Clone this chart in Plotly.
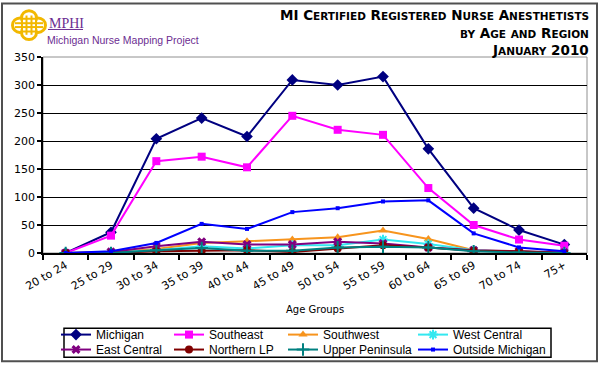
import plotly.graph_objects as go

age_groups = ["20 to 24", "25 to 29", "30 to 34", "35 to 39", "40 to 44", "45 to 49",
              "50 to 54", "55 to 59", "60 to 64", "65 to 69", "70 to 74", "75+"]

michigan = [0, 37, 204, 241, 208, 309, 300, 315, 186, 80, 41, 15]
southeast = [0, 31, 164, 172, 153, 245, 220, 211, 116, 50, 24, 13]
southwest = [0, 1, 7, 18, 21, 24, 28, 40, 25, 5, 3, 0]
west_central = [0, 1, 5, 12, 8, 14, 14, 24, 16, 5, 2, 1]
east_central = [0, 2, 12, 20, 15, 15, 20, 17, 10, 5, 3, 1]
northern_lp = [0, 0, 3, 4, 5, 2, 8, 14, 10, 4, 3, 0]
upper_peninsula = [0, 0, 5, 9, 4, 4, 10, 11, 10, 3, 1, 0]
outside_michigan = [0, 3, 18, 52, 43, 73, 80, 92, 94, 35, 10, 3]

W, H = 600, 376
L, R, T, B = 43, 13, 57, 116
PW, PH = W - L - R, H - T - B


def px(x):
    return (x - L) / PW


def py(y):
    return (H - B - y) / PH


series = [
    ("Michigan", michigan, "#000080", dict(symbol="diamond", size=9)),
    ("Southeast", southeast, "#FF00FF", dict(symbol="square", size=8)),
    ("Southwest", southwest, "#F7941D", dict(symbol="triangle-up", size=8)),
    ("West Central", west_central, "#33E8F0", dict(symbol="asterisk-open", size=8, line=dict(width=2, color="#33E8F0"))),
    ("East Central", east_central, "#800080", dict(symbol="x", size=8)),
    ("Northern LP", northern_lp, "#800000", dict(symbol="circle", size=8)),
    ("Upper Peninsula", upper_peninsula, "#008080", dict(symbol="cross-thin-open", size=9, line=dict(width=2, color="#008080"))),
    ("Outside Michigan", outside_michigan, "#0000FF", dict(symbol="square", size=4)),
]

# legend text left positions (px) and rows
col_text_x = [96, 209, 323, 453]
row_y = [344.5, 360]

fig = go.Figure()
legend_layouts = {}
for i, (name, vals, color, mk) in enumerate(series):
    lg = "legend" if i == 0 else f"legend{i+1}"
    mk = dict(mk)
    mk.setdefault("color", color)
    fig.add_trace(go.Scatter(
        x=age_groups, y=vals, name=name, mode="lines+markers",
        line=dict(color=color, width=2), marker=mk, legend=lg,
    ))
    col = i % 4
    row = i // 4
    legend_layouts[lg] = dict(
        x=px(col_text_x[col] - 40), xanchor="left",
        y=py(row_y[row]), yanchor="middle",
        bgcolor="rgba(0,0,0,0)", borderwidth=0,
        font=dict(family="Liberation Sans, Arial, sans-serif", size=12, color="black"),
        orientation="v",
    )

shapes = []
# outer frame
shapes.append(dict(type="rect", xref="paper", yref="paper",
                   x0=px(2), x1=px(597), y0=py(1.5), y1=py(372),
                   line=dict(color="#505050", width=2), fillcolor="rgba(0,0,0,0)", layer="above"))
# plot area gray border (top/right)
shapes.append(dict(type="rect", xref="paper", yref="paper", x0=0, x1=1, y0=0, y1=1,
                   line=dict(color="#909090", width=1), layer="below"))
# legend box
shapes.append(dict(type="rect", xref="paper", yref="paper",
                   x0=px(64), x1=px(551), y0=py(338), y1=py(368),
                   line=dict(color="black", width=1.5)))
# logo: quatrefoil knot
for cx, cy in [(20, 24), (38, 24), (29, 16.5), (29, 31.5)]:
    r = 7.5
    shapes.append(dict(type="circle", xref="paper", yref="paper",
                       x0=px(cx - r), x1=px(cx + r), y0=py(cy - r), y1=py(cy + r),
                       line=dict(color="#F2B800", width=3), fillcolor="white"))
shapes.append(dict(type="rect", xref="paper", yref="paper",
                   x0=px(22), x1=px(36), y0=py(17.5), y1=py(30.5),
                   line=dict(color="#F2B800", width=2), fillcolor="white"))
for v in [26.5, 31.5]:
    shapes.append(dict(type="line", xref="paper", yref="paper",
                       x0=px(v), x1=px(v), y0=py(14), y1=py(34),
                       line=dict(color="#F2B800", width=2)))
for hz in [22, 26]:
    shapes.append(dict(type="line", xref="paper", yref="paper",
                       x0=px(15), x1=px(43), y0=py(hz), y1=py(hz),
                       line=dict(color="#F2B800", width=2)))
# MPHI underline
shapes.append(dict(type="line", xref="paper", yref="paper",
                   x0=px(48), x1=px(83), y0=py(28.5), y1=py(28.5),
                   line=dict(color="#6C2D91", width=1)))

SMALL = 10.5


def sc(word, small=SMALL):
    return word[0] + f"<span style='font-size:{small}px'>" + word[1:].upper() + "</span>"


title_lines = [
    "MI " + " ".join(sc(w) for w in ["Certified", "Registered", "Nurse", "Anesthetists"]),
    f"<span style='font-size:{SMALL}px'>BY</span> " + sc("Age") + f" <span style='font-size:{SMALL}px'>AND</span> " + sc("Region"),
    sc("January") + " 2010",
]
title_y = [13.5, 32, 50]

annotations = []
for t, yy in zip(title_lines, title_y):
    annotations.append(dict(text="<b>" + t + "</b>", xref="paper", yref="paper",
                            x=px(591), y=py(yy), xanchor="right", yanchor="middle",
                            showarrow=False,
                            font=dict(family="DejaVu Sans, Verdana, sans-serif", size=13.5, color="black")))
annotations.append(dict(text="MPHI", xref="paper", yref="paper", x=px(47), y=py(22),
                        xanchor="left", yanchor="middle", showarrow=False,
                        font=dict(family="Liberation Serif, Times New Roman, serif", size=14, color="#6C2D91")))
annotations.append(dict(text="Michigan Nurse Mapping Project", xref="paper", yref="paper",
                        x=px(45), y=py(39), xanchor="left", yanchor="middle", showarrow=False,
                        font=dict(family="Liberation Sans, Arial, sans-serif", size=10.5, color="#6C2D91")))
annotations.append(dict(text="Age Groups", xref="paper", yref="paper",
                        x=px(315), y=py(319), xanchor="center", yanchor="middle", showarrow=False,
                        font=dict(family="DejaVu Sans, Verdana, sans-serif", size=10, color="black")))

fig.update_layout(
    width=W, height=H,
    margin=dict(l=L, r=R, t=T, b=B, pad=0),
    paper_bgcolor="white", plot_bgcolor="white",
    showlegend=True,
    shapes=shapes, annotations=annotations,
    **legend_layouts,
)

fig.update_xaxes(
    type="category", range=[-0.5, 11.5], automargin=False,
    showline=True, linecolor="black", linewidth=1.5,
    ticks="outside", tickson="boundaries", ticklen=5, tickcolor="black", tickwidth=1.5,
    tickangle=-30, showgrid=False, zeroline=False,
    tickfont=dict(family="DejaVu Sans, Verdana, sans-serif", size=11, color="black"),
)
fig.update_yaxes(
    range=[0, 350], dtick=50, automargin=False,
    showline=True, linecolor="black", linewidth=1.5,
    ticks="outside", ticklen=4, tickcolor="black", tickwidth=1.5,
    showgrid=True, gridcolor="black", gridwidth=1.2, zeroline=False,
    tickfont=dict(family="DejaVu Sans, Verdana, sans-serif", size=11, color="black"),
)

fig.write_html("out.html", config={"displayModeBar": False},
               post_script="document.body.style.margin='0';document.body.style.overflow='hidden';")
